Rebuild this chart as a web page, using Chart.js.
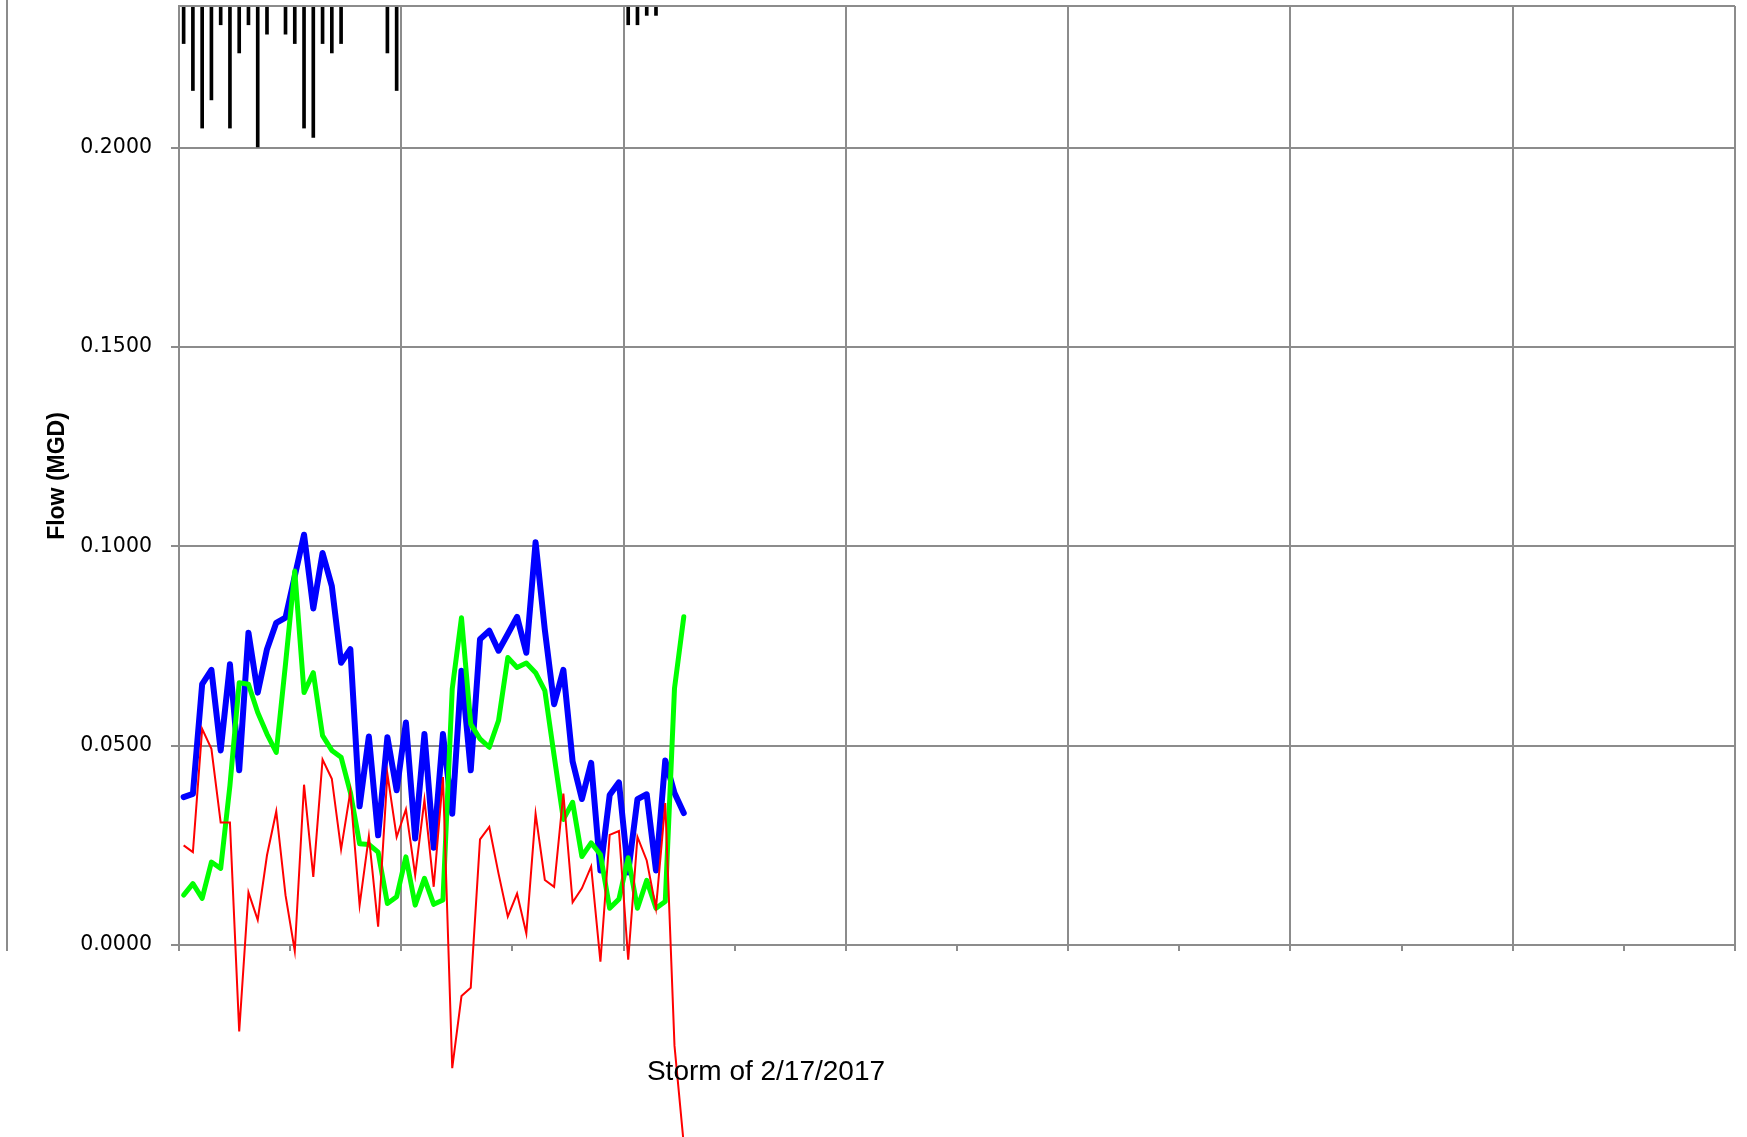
<!DOCTYPE html>
<html>
<head>
<meta charset="utf-8">
<title>Storm of 2/17/2017</title>
<script src="https://cdn.jsdelivr.net/npm/chart.js@4.4.0/dist/chart.umd.min.js"></script>
<style>
  html, body { margin: 0; padding: 0; background: #fff; }
</style>
</head>
<body>
<canvas id="myChart" width="1747" height="1137"></canvas>
<script>
// hourly readings, hours since start of the storm window (7 days shown)
const hours = [
  0.5, 1.5, 2.5, 3.5, 4.5, 5.5, 6.5, 7.5, 8.5, 9.5,
  10.5, 11.5, 12.5, 13.5, 14.5, 15.5, 16.5, 17.5, 18.5, 19.5,
  20.5, 21.5, 22.5, 23.5, 24.5, 25.5, 26.5, 27.5, 28.5, 29.5,
  30.5, 31.5, 32.5, 33.5, 34.5, 35.5, 36.5, 37.5, 38.5, 39.5,
  40.5, 41.5, 42.5, 43.5, 44.5, 45.5, 46.5, 47.5, 48.5, 49.5,
  50.5, 51.5, 52.5, 53.5, 54.5
];

// total flow (MGD)
const totalFlow = [
  0.0371, 0.0379, 0.0654, 0.0690, 0.0488, 0.0704, 0.0438, 0.0783, 0.0633, 0.0742,
  0.0808, 0.0821, 0.0925, 0.1029, 0.0844, 0.0983, 0.0900, 0.0708, 0.0742, 0.0348,
  0.0523, 0.0275, 0.0521, 0.0388, 0.0558, 0.0267, 0.0529, 0.0244, 0.0529, 0.0329,
  0.0688, 0.0438, 0.0767, 0.0788, 0.0738, 0.0780, 0.0823, 0.0733, 0.1010, 0.0790,
  0.0604, 0.0690, 0.0460, 0.0366, 0.0457, 0.0187, 0.0376, 0.0408, 0.0182, 0.0366,
  0.0378, 0.0187, 0.0463, 0.0381, 0.0331
];

// base flow (MGD)
const baseFlow = [
  0.0125, 0.0154, 0.0117, 0.0208, 0.0192, 0.0400, 0.0658, 0.0654, 0.0583, 0.0529,
  0.0483, 0.0705, 0.0938, 0.0633, 0.0683, 0.0525, 0.0488, 0.0471, 0.0383, 0.0254,
  0.0252, 0.0233, 0.0104, 0.0121, 0.0221, 0.0100, 0.0167, 0.0102, 0.0113, 0.0642,
  0.0821, 0.0554, 0.0517, 0.0496, 0.0563, 0.0721, 0.0696, 0.0707, 0.0683, 0.0638,
  0.0475, 0.0315, 0.0358, 0.0222, 0.0256, 0.0227, 0.0092, 0.0115, 0.0219, 0.0092,
  0.0162, 0.0092, 0.0109, 0.0644, 0.0823
];

// I/I flow (MGD)
const iiFlow = [
  0.0250, 0.0233, 0.0542, 0.0492, 0.0307, 0.0307, -0.0217, 0.0132, 0.0063, 0.0225,
  0.0335, 0.0125, -0.0015, 0.0402, 0.0171, 0.0465, 0.0417, 0.0240, 0.0385, 0.0100,
  0.0273, 0.0046, 0.0429, 0.0271, 0.0340, 0.0175, 0.0364, 0.0146, 0.0421, -0.0309,
  -0.0128, -0.0107, 0.0265, 0.0296, 0.0179, 0.0071, 0.0129, 0.0029, 0.0329, 0.0163,
  0.0146, 0.0380, 0.0107, 0.0142, 0.0197, -0.0042, 0.0276, 0.0286, -0.0037, 0.0271,
  0.0212, 0.0092, 0.0356, -0.0253, -0.0500
];

// hourly rainfall (in), hangs from the top on its own reversed axis
const rainfall = [
  0.04, 0.09, 0.13, 0.10, 0.02, 0.13, 0.05, 0.02, 0.15, 0.03,
  0.00, 0.03, 0.04, 0.13, 0.14, 0.04, 0.05, 0.04, 0.00, 0.00,
  0.00, 0.00, 0.05, 0.09, 0.00, 0.00, 0.00, 0.00, 0.00, 0.00,
  0.00, 0.00, 0.00, 0.00, 0.00, 0.00, 0.00, 0.00, 0.00, 0.00,
  0.00, 0.00, 0.00, 0.00, 0.00, 0.00, 0.00, 0.00, 0.02, 0.02,
  0.01, 0.01, 0.00, 0.00, 0.00
];

const flowTicks = [0, 0.05, 0.10, 0.15, 0.20];

const gridColor = '#8c8c8c';
const pts = arr => hours.map((h, i) => ({ x: h, y: arr[i] }));

// top edge of the plot, outer frame line and the two titles
const frame = {
  id: 'frame',
  afterDraw(chart) {
    const { ctx, chartArea: a } = chart;
    ctx.save();
    ctx.strokeStyle = gridColor;
    ctx.lineWidth = 2;
    ctx.beginPath();
    ctx.moveTo(a.left, a.top);
    ctx.lineTo(a.right, a.top);
    ctx.stroke();

    // the outer frame stops at y=951, the axis labels are cut there
    ctx.fillStyle = '#fff';
    ctx.fillRect(0, 951, a.left - 3, chart.height - 951);
    ctx.beginPath();
    ctx.moveTo(7, 0);
    ctx.lineTo(7, 951);
    ctx.stroke();

    ctx.fillStyle = '#000';
    ctx.textAlign = 'center';
    ctx.textBaseline = 'middle';
    ctx.font = '28px "Liberation Sans"';
    ctx.fillText('Storm of 2/17/2017', 766, 1072);

    ctx.translate(58, 476);
    ctx.rotate(-Math.PI / 2);
    ctx.font = 'bold 23px "Liberation Sans"';
    ctx.fillText('Flow (MGD)', 0, 0);
    ctx.restore();
  }
};

const ctx = document.getElementById('myChart');

new Chart(ctx, {
  type: 'line',
  data: {
    datasets: [
      {
        label: 'I/I Flow',
        data: pts(iiFlow),
        borderColor: '#ff0000',
        borderWidth: 2,
        pointRadius: 0,
        clip: false,
        order: 0
      },
      {
        label: 'Base Flow',
        data: pts(baseFlow),
        borderColor: '#00ff00',
        borderWidth: 5,
        borderJoinStyle: 'round',
        borderCapStyle: 'round',
        pointRadius: 0,
        order: 1
      },
      {
        label: 'Total Flow',
        data: pts(totalFlow),
        borderColor: '#0000ff',
        borderWidth: 6,
        borderJoinStyle: 'round',
        borderCapStyle: 'round',
        pointRadius: 0,
        order: 2
      },
      {
        type: 'bar',
        label: 'Rainfall',
        data: pts(rainfall),
        yAxisID: 'yRain',
        backgroundColor: '#000000',
        barThickness: 3,
        order: 3
      }
    ]
  },
  options: {
    responsive: false,
    animation: false,
    layout: { padding: { left: 0, right: 12, top: 6, bottom: 0 } },
    plugins: {
      legend: { display: false },
      tooltip: { enabled: false }
    },
    scales: {
      x: {
        type: 'linear',
        min: 0,
        max: 168,
        offset: false,
        afterFit: s => {
          s.height = 192;
          s.paddingLeft = 0;
          s.paddingRight = 0;
        },
        ticks: { display: false, stepSize: 12 },
        grid: {
          offset: false,
          color: c => (c.tick && c.tick.value % 24 === 0) ? gridColor : 'rgba(0,0,0,0)',
          tickColor: gridColor,
          lineWidth: 2,
          tickLength: 6
        },
        border: { color: gridColor, width: 2 }
      },
      y: {
        min: 0,
        max: 0.2355,
        afterFit: s => {
          s.width = 179;
          s.paddingTop = 0;
          s.paddingBottom = 0;
        },
        afterBuildTicks: s => { s.ticks = flowTicks.map(v => ({ value: v })); },
        ticks: {
          color: '#000',
          padding: 19,
          font: { family: 'DejaVu Sans', size: 20.5 },
          callback: v => v.toFixed(4)
        },
        grid: { color: gridColor, lineWidth: 2, tickLength: 8 },
        border: { color: gridColor, width: 2 }
      },
      yRain: {
        type: 'linear',
        reverse: true,
        min: 0,
        max: 1.0,
        display: false
      }
    }
  },
  plugins: [frame]
});
</script>
</body>
</html>
